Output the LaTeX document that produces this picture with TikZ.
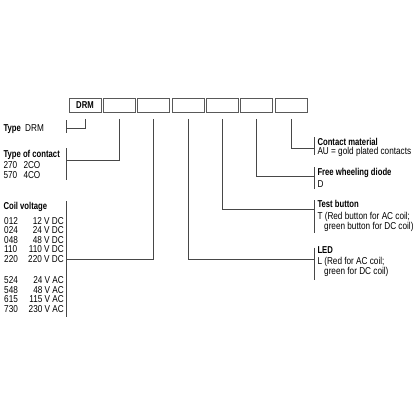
\documentclass[tikz,border=0pt]{standalone}
\usepackage{fontspec}
\setmainfont{Liberation Sans}[FakeStretch=0.82]
\newfontfamily\hb{Liberation Sans}[FakeStretch=0.77]
\begin{document}
\begin{tikzpicture}[x=1pt,y=-1pt]
\tikzset{
  ln/.style={draw=black!72, line width=0.9pt},
  cell/.style={draw=black!65, line width=0.9pt, minimum width=32pt, minimum height=14.3pt, inner sep=0pt},
  lbl/.style={anchor=base west, inner sep=0pt, font=\fontsize{10}{11}\selectfont},
  lblr/.style={anchor=base east, inner sep=0pt, font=\fontsize{10}{11}\selectfont},
  ttl/.style={anchor=base west, inner sep=0pt, font=\fontsize{10}{11}\selectfont\hb\bfseries}
}
\useasboundingbox (0,0) rectangle (416,416);
\fill[white] (0,0) rectangle (416,416);

% code boxes
\node[cell] (b0) at (85,105.2) {\fontsize{10}{11}\selectfont\hb\bfseries DRM};
\node[cell] (b1) at (119.33,105.2) {};
\node[cell] (b2) at (153.66,105.2) {};
\node[cell] (b3) at (188,105.2) {};
\node[cell] (b4) at (222.33,105.2) {};
\node[cell] (b5) at (256.66,105.2) {};
\node[cell] (b6) at (291,105.2) {};

% left labels
\node[ttl] (tType) at (3.3,131.5) {Type};
\node[lbl] (tDRM) at (25,131.5) {DRM};

\node[ttl] (tContact) at (3.3,157) {Type of contact};
\node[lbl] (c270) at (3.3,168.8) {270};
\node[lbl] (c2co) at (23.3,168.8) {2CO};
\node[lbl] (c570) at (3.3,178) {570};
\node[lbl] (c4co) at (23.3,178) {4CO};

\node[ttl] (tCoil) at (3.3,209) {Coil voltage};
\foreach \c/\v/\y in {012/12 V DC/224, 024/24 V DC/233.5, 048/48 V DC/243, 110/110 V DC/252.5, 220/220 V DC/262,
                      524/24 V AC/283.5, 548/48 V AC/293.1, 615/115 V AC/302.7, 730/230 V AC/312.3}{
  \node[lbl] (k\c) at (4,\y) {\c};
  \node[lblr] (v\c) at (64,\y) {\v};
}

% right labels
\node[ttl] (tMat) at (317.3,145) {Contact material};
\node[lbl] (tAU) at (317.3,154.4) {AU = gold plated contacts};

\node[ttl] (tDiode) at (317.3,175) {Free wheeling diode};
\node[lbl] (tD) at (317.3,187.7) {D};

\node[ttl] (tTest) at (317.3,207.3) {Test button};
\node[lbl] (tT1) at (317.3,219.3) {T (Red button for AC coil;};
\node[lbl] (tT2) at (324,229.3) {green button for DC coil)};

\node[ttl] (tLED) at (317.3,253.8) {LED};
\node[lbl] (tL1) at (317.3,264.8) {L (Red for AC coil;};
\node[lbl] (tL2) at (324,274.8) {green for DC coil)};

% brackets
\coordinate (a0) at (66.7,120);   \coordinate (z0) at (66.7,133);   \coordinate (j0) at (66.7,128);
\coordinate (a1) at (66.7,148);   \coordinate (z1) at (66.7,180);   \coordinate (j1) at (66.7,160);
\coordinate (a2) at (66.7,201);   \coordinate (z2) at (66.7,316.5); \coordinate (j2) at (66.7,259.5);
\coordinate (a6) at (314.5,137);  \coordinate (z6) at (314.5,154.5);\coordinate (j6) at (314.5,148.3);
\coordinate (a5) at (314.5,167);  \coordinate (z5) at (314.5,188.5);\coordinate (j5) at (314.5,176);
\coordinate (a4) at (314.5,200);  \coordinate (z4) at (314.5,232.7);\coordinate (j4) at (314.5,209);
\coordinate (a3) at (314.5,247.5);\coordinate (z3) at (314.5,279.5);\coordinate (j3) at (314.5,259.5);
\foreach \i in {0,...,6}{ \draw[ln] (a\i) -- (z\i); }

% connectors
\draw[ln] ([yshift=-6pt]b0.south) |- (j0);
\draw[ln] ([yshift=-6pt]b1.south) |- (j1);
\draw[ln] ([yshift=-6pt]b2.south) |- (j2);
\draw[ln] ([yshift=-6pt]b3.south) |- (j3);
\draw[ln] ([yshift=-6pt]b4.south) |- (j4);
\draw[ln] ([yshift=-6pt]b5.south) |- (j5);
\draw[ln] ([yshift=-6pt]b6.south) |- (j6);
\end{tikzpicture}
\end{document}
